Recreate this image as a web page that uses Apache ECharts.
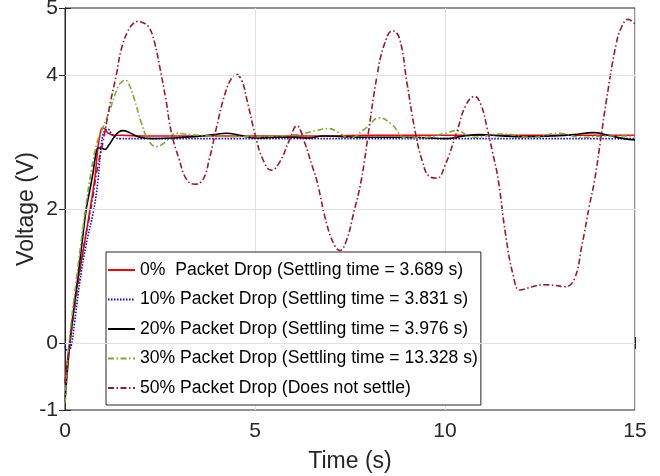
<!DOCTYPE html>
<html>
<head>
<meta charset="utf-8">
<script src="https://cdn.jsdelivr.net/npm/echarts@6/dist/echarts.min.js"></script>
<style>html,body{margin:0;padding:0;background:#fff}#c{width:660px;height:476px}</style>
</head>
<body>
<div id="c"></div>
<script>
const seriesNames = [
  '0%  Packet Drop (Settling time = 3.689 s)',
  '10% Packet Drop (Settling time = 3.831 s)',
  '20% Packet Drop (Settling time = 3.976 s)',
  '30% Packet Drop (Settling time = 13.328 s)',
  '50% Packet Drop (Does not settle)'
];
const xTicks = [0, 5, 10, 15];
const yTicks = [-1, 0, 2, 4, 5];
const yGrid = [0, 2, 4];

const tRed = [0, 0.06, 0.12, 0.3, 0.5, 0.66, 0.78, 0.87, 0.93, 0.98, 1.04, 1.1, 1.18, 1.3, 1.5, 2.0, 3.0, 4.0, 5.0, 6.0, 7.0, 8.0, 9.0, 10.0, 11.0, 12.0, 13.0, 14.0, 15.0];
const vRed = [-0.6, -0.3, 0.0, 0.8, 1.45, 2.0, 2.44, 2.93, 3.13, 3.21, 3.2, 3.15, 3.12, 3.1, 3.1, 3.09, 3.09, 3.09, 3.09, 3.09, 3.09, 3.1, 3.1, 3.1, 3.1, 3.1, 3.1, 3.1, 3.1];

const tBlue = [0, 0.08, 0.16, 0.25, 0.4, 0.55, 0.76, 0.87, 0.93, 1.0, 1.07, 1.13, 1.2, 1.3, 1.45, 2.0, 4.0, 6.0, 8.0, 10.0, 12.0, 14.0, 15.0];
const vBlue = [-0.05, -0.12, -0.05, 0.3, 0.95, 1.45, 2.0, 2.44, 2.83, 3.11, 3.18, 3.19, 3.14, 3.08, 3.05, 3.05, 3.05, 3.05, 3.05, 3.05, 3.05, 3.05, 3.05];

const tBlack = [0, 0.13, 0.3, 0.45, 0.56, 0.66, 0.74, 0.8, 0.87, 0.95, 1.05, 1.15, 1.3, 1.42, 1.53, 1.7, 1.97, 2.3, 2.8, 3.4, 3.9, 4.25, 4.6, 5.04, 5.6, 6.0, 6.4, 6.8, 7.3, 7.8, 8.5, 9.2, 10.03, 10.5, 10.9, 11.5, 12.2, 12.8, 13.4, 13.9, 14.3, 14.7, 15];
const vBlack = [-0.88, 0, 0.8, 1.5, 2.0, 2.3, 2.55, 2.78, 2.91, 2.91, 2.89, 2.95, 3.08, 3.15, 3.17, 3.14, 3.07, 3.05, 3.06, 3.08, 3.11, 3.13, 3.1, 3.06, 3.07, 3.07, 3.06, 3.09, 3.08, 3.07, 3.07, 3.07, 3.05, 3.09, 3.11, 3.09, 3.08, 3.09, 3.11, 3.14, 3.1, 3.05, 3.03];

const tGreen = [0, 0.11, 0.3, 0.54, 0.7, 0.85, 1.0, 1.18, 1.4, 1.5, 1.57, 1.65, 1.83, 2.0, 2.2, 2.4, 2.6, 2.93, 3.3, 3.8, 4.4, 5.0, 5.6, 6.2, 6.6, 6.95, 7.2, 7.49, 7.9, 8.28, 8.6, 8.98, 9.5, 10.0, 10.3, 10.74, 11.5, 12.3, 13.0, 13.6, 14.2, 15];
const vGreen = [-0.9, 0, 0.95, 2.0, 2.6, 3.0, 3.22, 3.48, 3.83, 3.9, 3.92, 3.9, 3.63, 3.3, 3.02, 2.93, 2.98, 3.13, 3.11, 3.09, 3.08, 3.08, 3.09, 3.12, 3.17, 3.2, 3.14, 3.06, 3.2, 3.36, 3.26, 3.06, 3.07, 3.13, 3.17, 3.07, 3.12, 3.07, 3.13, 3.07, 3.09, 3.09];

const tDark = [0, 0.13, 0.3, 0.5, 0.68, 0.85, 1.0, 1.18, 1.35, 1.48, 1.65, 1.8, 1.92, 2.05, 2.2, 2.35, 2.49, 2.65, 2.8, 3.0, 3.2, 3.42, 3.63, 3.8, 4.0, 4.2, 4.38, 4.5, 4.65, 4.8, 5.0, 5.2, 5.43, 5.65, 5.9, 6.1, 6.3, 6.5, 6.62, 6.9, 7.1, 7.23, 7.4, 7.6, 7.8, 8.0, 8.2, 8.4, 8.62, 8.8, 9.0, 9.2, 9.4, 9.6, 9.79, 10.0, 10.3, 10.55, 10.78, 10.95, 11.1, 11.25, 11.4, 11.6, 11.8, 11.97, 12.3, 12.6, 12.9, 13.15, 13.4, 13.6, 13.8, 13.94, 14.1, 14.25, 14.5, 14.65, 14.82, 15];
const vDark = [-0.6, 0, 0.7, 1.45, 2.0, 2.6, 3.0, 3.55, 4.0, 4.38, 4.65, 4.77, 4.8, 4.78, 4.72, 4.5, 4.13, 3.65, 3.14, 2.75, 2.44, 2.37, 2.44, 2.75, 3.25, 3.7, 3.95, 4.01, 3.92, 3.6, 3.12, 2.75, 2.58, 2.7, 3.02, 3.24, 3.0, 2.65, 2.44, 1.75, 1.45, 1.38, 1.52, 1.95, 2.44, 3.2, 3.95, 4.45, 4.66, 4.55, 3.88, 3.2, 2.72, 2.48, 2.46, 2.65, 3.13, 3.55, 3.68, 3.55, 3.23, 2.85, 2.44, 1.6, 1.0, 0.79, 0.84, 0.87, 0.86, 0.84, 0.95, 1.45, 2.05, 2.44, 3.05, 3.63, 4.45, 4.72, 4.83, 4.76];

const zip = (t, v) => t.map((x, i) => [x, v[i]]);
const TXT = '#262626';
const FONT = 'Liberation Sans, Arial, Helvetica, sans-serif';

const chart = echarts.init(document.getElementById('c'), null, {renderer: 'canvas'});

function lineSeries(name, t, v, color, type) {
  return {
    name: name, type: 'line', data: zip(t, v), showSymbol: false, symbol: 'none',
    smooth: 0.45, z: 3,
    lineStyle: {color: color, width: 1.6, type: type},
    itemStyle: {color: color},
    emphasis: {disabled: true}, animation: false
  };
}

const option = {
  animation: false,
  backgroundColor: '#fff',
  textStyle: {fontFamily: FONT},
  grid: {left: 65, right: 25, top: 8, bottom: 66, containLabel: false, outerBoundsMode: 'none',
         show: true, borderColor: TXT, borderWidth: 1, backgroundColor: 'transparent'},
  xAxis: [{
    type: 'value', min: 0, max: 15, interval: 5, position: 'bottom',
    name: 'Time (s)', nameLocation: 'middle', nameGap: 40, nameMoveOverlap: false,
    nameTextStyle: {color: TXT, fontSize: 23, fontFamily: FONT},
    axisLine: {show: true, lineStyle: {color: TXT, width: 1}},
    axisTick: {show: true, inside: true, length: 6, lineStyle: {color: TXT}},
    axisLabel: {show: true, color: TXT, fontSize: 21, fontFamily: FONT, margin: 11},
    splitLine: {show: true, lineStyle: {color: '#e1e1e1', width: 1}}
  }, {
    type: 'value', min: 0, max: 15, interval: 5, position: 'top',
    axisLine: {show: true, lineStyle: {color: TXT, width: 1}},
    axisTick: {show: true, inside: true, length: 6, lineStyle: {color: TXT}},
    axisLabel: {show: false}, splitLine: {show: false}
  }],
  yAxis: [{
    type: 'value', min: -1, max: 5, position: 'left',
    name: 'Voltage (V)', nameLocation: 'middle', nameGap: 27, nameRotate: 90, nameMoveOverlap: false,
    nameTextStyle: {color: TXT, fontSize: 23, fontFamily: FONT},
    axisLine: {show: true, lineStyle: {color: TXT, width: 1}},
    axisTick: {show: true, inside: true, length: 6, customValues: yTicks, lineStyle: {color: TXT}},
    axisLabel: {show: true, color: TXT, fontSize: 21, fontFamily: FONT, margin: 7, customValues: yTicks},
    splitLine: {show: false}
  }, {
    type: 'value', min: -1, max: 5, position: 'right',
    axisLine: {show: true, lineStyle: {color: TXT, width: 1}},
    axisTick: {show: true, inside: true, length: 6, customValues: yTicks, lineStyle: {color: TXT}},
    axisLabel: {show: false, customValues: yTicks}, splitLine: {show: false}
  }],
  legend: {
    data: seriesNames,
    orient: 'vertical', left: 106, top: 252,
    padding: [9, 3, 8, 1],
    itemWidth: 27, itemHeight: 12, itemGap: 11.5,
    itemStyle: {opacity: 0},
    backgroundColor: '#fff', borderColor: TXT, borderWidth: 1,
    textStyle: {color: '#000', fontSize: 17.6, fontFamily: FONT},
    selectedMode: false
  },
  series: [
    {
      name: 'grid', type: 'line', data: [], z: 1, silent: true,
      markLine: {
        silent: true, symbol: 'none', label: {show: false}, animation: false,
        lineStyle: {color: '#e1e1e1', width: 1, type: 'solid'},
        emphasis: {disabled: true},
        data: yGrid.map(v => ({yAxis: v}))
      }
    },
    lineSeries(seriesNames[0], tRed, vRed, '#ff0000', 'solid'),
    lineSeries(seriesNames[1], tBlue, vBlue, '#0000ff', [1.5, 1.5]),
    lineSeries(seriesNames[2], tBlack, vBlack, '#000000', 'solid'),
    lineSeries(seriesNames[3], tGreen, vGreen, '#77ac30', [6, 2.5, 1.5, 2.5]),
    lineSeries(seriesNames[4], tDark, vDark, '#a2142f', [6, 2.5, 1.5, 2.5])
  ]
};
chart.setOption(option);
</script>
</body>
</html>
